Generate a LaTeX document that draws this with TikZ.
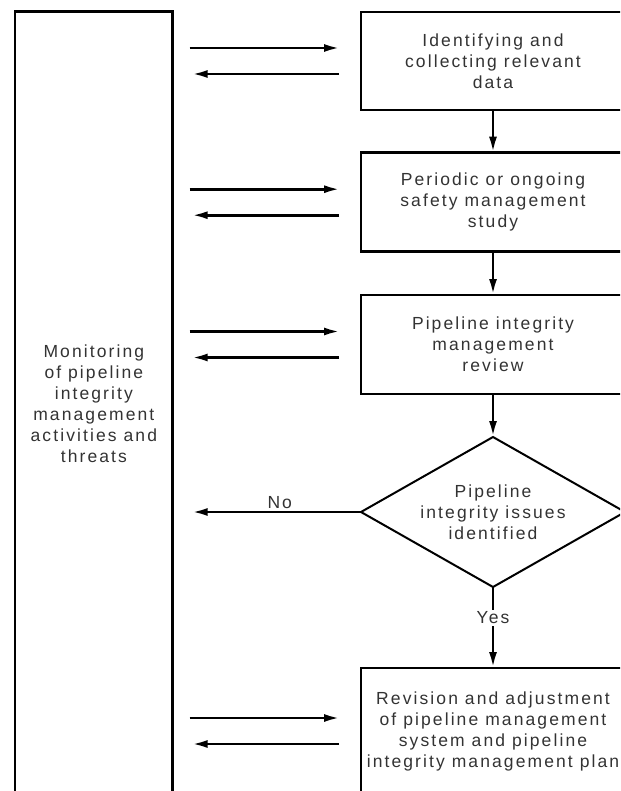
\documentclass[tikz,border=0pt]{standalone}
\usepackage{fontspec}
\setmainfont{Liberation Sans}[LetterSpace=12]
\usetikzlibrary{arrows.meta,shapes.geometric,calc}
\begin{document}
\begin{tikzpicture}[x=1pt,y=-1pt,
  every node/.style={font=\fontsize{17.5}{21}\selectfont, text=black!80, align=center, outer sep=0pt},
  box/.style={draw=black, line width=2.7pt, rectangle, inner sep=0pt},
  rbox/.style={box, minimum width=264pt},
  decision/.style={draw=black, line width=2pt, diamond, inner sep=0pt, aspect=1.76, minimum width=264pt, minimum height=150pt},
  arr/.style={line width=2.7pt, -{Latex[length=16pt,width=8pt]}},
  lbl/.style={font=\fontsize{17.5}{21}\selectfont, inner sep=2pt}
]
\useasboundingbox (0,0) rectangle (620,791);
\fill[white] (0,0) rectangle (620,791);
\clip (0,0) rectangle (620,791);

\node[box, minimum width=157.7pt, minimum height=784.3pt] (mon) at (93.85,403.85)
  {Monitoring\\of pipeline\\integrity\\management\\activities and\\threats};

\node[rbox, minimum height=98pt] (b1) at (493,61)
  {Identifying and\\collecting relevant\\data};
\node[rbox, minimum height=99pt] (b2) at (493,202.2)
  {Periodic or ongoing\\safety management\\study};
\node[rbox, minimum height=99pt] (b3) at (493,344.5)
  {Pipeline integrity\\management\\review};
\node[decision] (dec) at (493,512)
  {Pipeline\\integrity issues\\identified};
\node[rbox, minimum height=126pt] (b5) at (493,731)
  {Revision and adjustment\\of pipeline management\\system and pipeline\\integrity management plan};

\draw[arr] (b1.south) -- (b2.north);
\draw[arr] (b2.south) -- (b3.north);
\draw[arr] (b3.south) -- (dec.north);
\draw[arr] (dec.south) -- node[pos=0.38, fill=white, lbl] (yes) {Yes} (b5.north);

\coordinate (noend) at ($(mon.east|-dec.west)+(19,0)$);
\draw[arr] (dec.west) -- node[pos=0.48, above=1pt, lbl] (no) {No} (noend);

\foreach \b in {b1,b2,b3,b5} {
  \draw[arr] ($(mon.east|-\b.west)+(17,-13)$) -- ($(\b.west)+(-21,-13)$);
  \draw[arr] ($(\b.west)+(-22,13)$) -- ($(mon.east|-\b.west)+(19,13)$);
}
\end{tikzpicture}
\end{document}
